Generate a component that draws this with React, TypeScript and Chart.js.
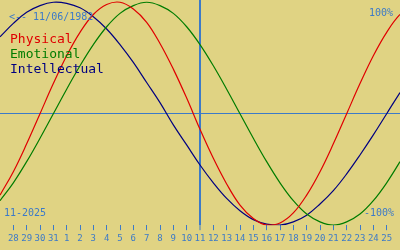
import React, { useEffect, useRef } from "react";
import { Chart, registerables } from "chart.js";

Chart.register(...registerables);

// Day labels shown on the x axis (28 Oct .. 25 Nov 2025)
const dayLabels = [
  "28", "29", "30", "31", "1", "2", "3", "4", "5", "6", "7", "8", "9", "10",
  "11", "12", "13", "14", "15", "16", "17", "18", "19", "20", "21", "22", "23", "24", "25",
];
// Sample positions (day index, -1 = 27 Oct .. 30 = 27 Nov)
const sampleDays = [
  -1, 0, 1, 2, 3, 4, 5, 6, 7, 8, 9, 10, 11, 12, 13, 14, 15,
  16, 17, 18, 19, 20, 21, 22, 23, 24, 25, 26, 27, 28, 29, 30,
];
const physical = [
  -73, -52, -27, 0, 27, 52, 73, 89, 98, 100, 94, 82, 63, 40, 14, -14, -40,
  -63, -82, -94, -100, -98, -89, -73, -52, -27, 0, 27, 52, 73, 89, 98,
];
const emotional = [
  -78, -62, -43, -22, 0, 22, 43, 62, 78, 90, 97, 100, 97, 90, 78, 62, 43,
  22, 0, -22, -43, -62, -78, -90, -97, -100, -97, -90, -78, -62, -43, -22,
];
const intellectual = [
  69, 81, 91, 97, 100, 99, 95, 87, 76, 62, 46, 28, 10, -10, -28, -46, -62,
  -76, -87, -95, -99, -100, -97, -91, -81, -69, -54, -37, -19, 0, 19, 37,
];
const todayIndex = 14; // 11 Nov
const birthText = "<-- 11/06/1982";
const monthText = "11-2025";
const topText = "100%";
const bottomText = "-100%";
const seriesNames = ["Physical", "Emotional", "Intellectual"];
const seriesColors = ["#e00000", "#007c00", "#000080"];

const BLUE = "#3c7ac8";
const BG = "rgb(224,211,131)";
const MONO = "'DejaVu Sans Mono', 'Liberation Mono', monospace";

export default function App() {
  const ref = useRef<HTMLCanvasElement | null>(null);

  useEffect(() => {
    if (!ref.current) return;
    const series = [physical, emotional, intellectual];
    const chart = new Chart(ref.current, {
      type: "line",
      data: {
        datasets: series.map((vals, si) => ({
          label: seriesNames[si],
          data: vals.map((v, i) => ({ x: sampleDays[i], y: v })),
          borderColor: seriesColors[si],
          borderWidth: 1.2,
          pointRadius: 0,
          tension: 0.4,
          fill: false,
        })),
      },
      options: {
        responsive: false,
        animation: false,
        devicePixelRatio: 1,
        layout: { padding: { left: 0, right: 0, top: 0, bottom: 3 } },
        plugins: { legend: { display: false }, tooltip: { enabled: false } },
        scales: {
          x: {
            type: "linear",
            min: -1,
            max: 29,
            afterBuildTicks: (scale: any) => {
              scale.ticks = dayLabels.map((_, i) => ({ value: i }));
            },
            ticks: {
              autoSkip: false,
              maxRotation: 0,
              padding: 3,
              color: BLUE,
              font: { family: MONO, size: 9 },
              callback: (v: any) => dayLabels[Number(v)] ?? "",
            },
            grid: {
              drawOnChartArea: true,
              color: (ctx: any) =>
                ctx.tick && ctx.tick.value === todayIndex ? BLUE : "rgba(0,0,0,0)",
              lineWidth: (ctx: any) => (ctx.tick && ctx.tick.value === todayIndex ? 2 : 1),
              tickColor: BLUE,
              tickWidth: 1,
              tickLength: 5,
            },
            border: { display: false },
          },
          y: {
            type: "linear",
            min: -100,
            max: 102,
            afterBuildTicks: (scale: any) => {
              scale.ticks = [{ value: 0 }];
            },
            ticks: { display: false },
            grid: { drawTicks: false, color: BLUE, lineWidth: 1 },
            border: { display: false },
          },
        },
      },
    });
    return () => chart.destroy();
  }, []);

  const txt = (extra: React.CSSProperties): React.CSSProperties => ({
    position: "absolute",
    fontFamily: MONO,
    lineHeight: 1,
    whiteSpace: "pre",
    margin: 0,
    ...extra,
  });

  return (
    <div
      style={{
        position: "fixed",
        left: 0,
        top: 0,
        width: 400,
        height: 250,
        background: BG,
        overflow: "hidden",
      }}
    >
      <canvas ref={ref} width={400} height={250} style={{ display: "block", width: 400, height: 250 }} />
      <div style={txt({ left: 9, top: 11.5, fontSize: 10, color: BLUE })}>{birthText}</div>
      <div style={txt({ right: 7, top: 7.5, fontSize: 10, color: BLUE })}>{topText}</div>
      <div style={txt({ right: 6, top: 207.5, fontSize: 10, color: BLUE })}>{bottomText}</div>
      <div style={txt({ left: 4, top: 207.5, fontSize: 10, color: BLUE })}>{monthText}</div>
      {seriesNames.map((n, i) => (
        <div key={n} style={txt({ left: 10, top: 32 + i * 15, fontSize: 13, color: seriesColors[i] })}>
          {n}
        </div>
      ))}
    </div>
  );
}
